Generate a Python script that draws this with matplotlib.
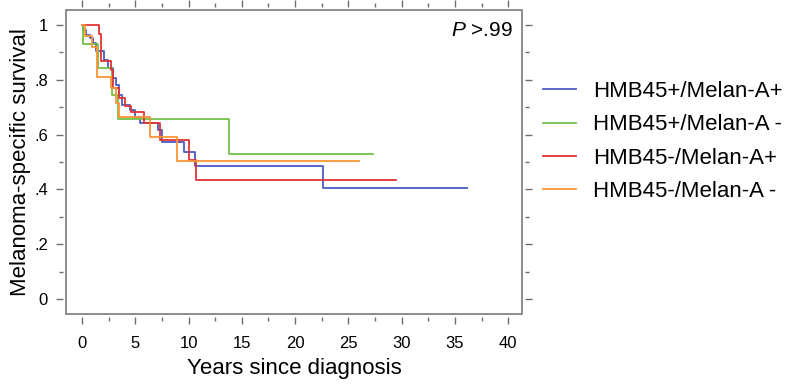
import matplotlib
matplotlib.use("Agg")
import matplotlib.pyplot as plt
from matplotlib.patches import Rectangle
from matplotlib.ticker import FixedLocator

plt.rcParams['font.family'] = ['Liberation Sans', 'DejaVu Sans']
plt.rcParams['mathtext.fontset'] = 'custom'
plt.rcParams['mathtext.it'] = 'Liberation Sans:italic'
plt.rcParams['mathtext.rm'] = 'Liberation Sans'

labels = ["HMB45+/Melan-A+", "HMB45+/Melan-A -", "HMB45-/Melan-A+", "HMB45-/Melan-A -"]
colors = ["#4a5cc4", "#72c24a", "#e23434", "#ff9435"]

blue_t = [0, 0.1, 0.35, 0.75, 1.0, 1.3, 2.1, 2.4, 2.9, 3.2, 3.45, 3.8, 4.5, 5.0, 5.45, 7.17, 7.5, 9.6, 10.6, 22.6, 36.1]
blue_s = [1.0, 0.983, 0.965, 0.953, 0.934, 0.904, 0.873, 0.843, 0.807, 0.782, 0.746, 0.709, 0.69, 0.665, 0.641, 0.617, 0.574, 0.535, 0.487, 0.406, 0.406]

green_t = [0, 0.1, 1.55, 2.85, 3.4, 13.8, 27.3]
green_s = [1.0, 0.93, 0.843, 0.746, 0.657, 0.529, 0.529]

red_t = [0, 1.56, 1.8, 2.72, 2.9, 3.5, 4.07, 4.6, 5.8, 7.3, 10.0, 10.7, 29.5]
red_s = [1.0, 0.967, 0.87, 0.837, 0.77, 0.733, 0.703, 0.684, 0.641, 0.58, 0.507, 0.434, 0.434]

orange_t = [0, 0.3, 0.9, 1.4, 2.75, 3.2, 3.5, 6.4, 8.9, 26.0]
orange_s = [1.0, 0.96, 0.92, 0.81, 0.77, 0.715, 0.665, 0.592, 0.504, 0.504]

xticks = [0, 5, 10, 15, 20, 25, 30, 35, 40]
yticks = [0, 0.2, 0.4, 0.6, 0.8, 1.0]
ytick_labels = ["0", ".2", ".4", ".6", ".8", "1"]

fig = plt.figure(figsize=(7.88, 3.86), dpi=100)
ax = fig.add_axes([66/788, 1-314/386, (522-66)/788, (314-10)/386])

series = [(blue_t, blue_s), (green_t, green_s), (red_t, red_s), (orange_t, orange_s)]
for (t, s), c, lab in zip(series, colors, labels):
    ax.plot(t, s, drawstyle='steps-post', color=c, lw=1.3, label=lab)

ax.set_xlim(-1.5, 41.3)
ax.set_ylim(-0.055, 1.055)

ax.set_xticks(xticks)
ax.xaxis.set_minor_locator(FixedLocator([2.5 + 5*i for i in range(8)]))
ax.set_yticks(yticks)
ax.set_yticklabels(ytick_labels)
ax.yaxis.set_minor_locator(FixedLocator([0.1, 0.3, 0.5, 0.7, 0.9]))

for sp in ax.spines.values():
    sp.set_position(('outward', 2))
    sp.set_color('none')
frame = Rectangle((0, 0), 1, 1, transform=ax.transAxes, fill=False,
                  edgecolor='#6e6e6e', lw=1.1, clip_on=False, zorder=5)
ax.add_patch(frame)

tc = '#6e6e6e'
ax.tick_params(axis='both', which='major', direction='out', length=5, width=1.0,
               color=tc, labelsize=12, labelcolor='black')
ax.tick_params(axis='both', which='minor', direction='out', length=3, width=1.0, color=tc)
ax.tick_params(top=True, right=True, which='both')
ax.tick_params(axis='x', which='major', pad=9)
ax.tick_params(axis='y', which='major', pad=6)

ax.set_xlabel("Years since diagnosis", fontsize=16, labelpad=5)
ax.set_ylabel("Melanoma-specific survival", fontsize=16, labelpad=2)

ax.text(0.980, 0.914, r"$P$ >.99", transform=ax.transAxes, ha='right',
        va='baseline', fontsize=15)

leg = ax.legend(loc='center left', bbox_to_anchor=((542.7-66)/456, (314-141.5)/304),
                frameon=False, fontsize=16, handlelength=1.5, handletextpad=0.75,
                labelspacing=0.55, borderpad=0, borderaxespad=0)

fig.savefig("out.png", dpi=100)
